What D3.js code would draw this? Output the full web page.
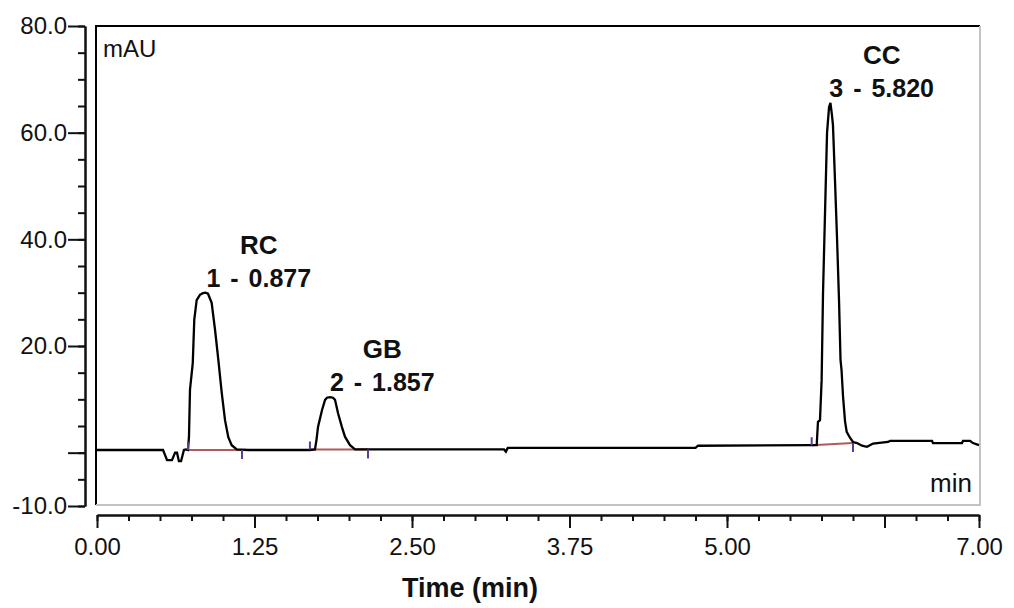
<!DOCTYPE html>
<html>
<head>
<meta charset="utf-8">
<script src="https://cdn.jsdelivr.net/npm/d3@7"></script>
<style>
  body { margin: 0; background: #fff; }
  text { font-family: "Liberation Sans", Arial, sans-serif; fill: #111; }
</style>
</head>
<body>
<div id="chart"></div>
<script>
var width = 1014, height = 608;

// chromatogram trace (time in min, signal in mAU)
var traceTime = [0, 0.524, 0.556, 0.595, 0.620, 0.635, 0.650, 0.667, 0.690, 0.706, 0.722,
  0.730, 0.738, 0.760, 0.772, 0.791, 0.817, 0.841, 0.861, 0.881, 0.910, 0.937, 0.963, 0.990,
  1.016, 1.042, 1.069, 1.109, 1.200, 1.690, 1.730, 1.742, 1.754, 1.786, 1.810, 1.825, 1.849,
  1.873, 1.889, 1.913, 1.944, 1.968, 2.008, 2.048, 2.151, 3.230, 3.245, 3.260, 4.750, 4.770,
  5.672, 5.712, 5.722, 5.738, 5.751, 5.762, 5.778, 5.794, 5.810, 5.821, 5.833, 5.841, 5.857,
  5.873, 5.889, 5.901, 5.909, 5.921, 5.937, 5.950, 5.976, 6.000, 6.032, 6.071, 6.111, 6.159,
  6.278, 6.294, 6.627, 6.635, 6.865, 6.873, 6.929, 6.952, 7.0];
var traceSignal = [0.5, 0.5, -1.4, -1.4, 0.0, 0.0, -1.6, -1.6, 0.5, 0.6, 0.5,
  3.0, 11.8, 16.8, 24.9, 28.6, 29.6, 29.9, 30.0, 29.8, 28.1, 23.0, 17.4, 11.2,
  6.1, 2.9, 1.4, 0.6, 0.5, 0.5, 0.6, 2.4, 4.8, 8.0, 9.9, 10.3, 10.4,
  10.3, 9.9, 7.4, 4.8, 3.0, 1.4, 0.6, 0.6, 0.6, 0.2, 0.9, 0.9, 1.3,
  1.4, 1.4, 5.8, 6.1, 13.6, 29.9, 45.0, 60.0, 64.8, 65.6, 63.3, 61.4, 51.1,
  40.4, 28.6, 17.4, 15.5, 10.5, 5.8, 3.9, 2.8, 2.0, 1.8, 1.3, 1.1, 1.7,
  2.0, 2.2, 2.2, 1.8, 1.8, 2.2, 2.2, 1.8, 1.4];

// peak table
var peakNames = ["RC", "GB", "CC"];
var peakNumbers = [1, 2, 3];
var peakTimes = [0.877, 1.857, 5.820];
var peakHeights = [30.0, 10.4, 65.6];
var peakStarts = [0.722, 1.690, 5.672];
var peakEnds = [1.151, 2.151, 6.000];
var peakStartLevels = [0.5, 0.6, 1.4];
var peakEndLevels = [0.5, 0.6, 1.8];

// axis ticks
var yMajorTicks = [80, 60, 40, 20, 0, -10];
var yMinorTicks = [-10, -5, 0, 5, 10, 15, 20, 25, 30, 35, 40, 45, 50, 55, 60, 65, 70, 75, 80];
var xMajorTicks = [0, 1.25, 2.5, 3.75, 5, 6.25, 7];
var xUnlabelled = [6.25];
var yUnlabelled = [0];
var xMinorTicks = d3.range(0, 7.001, 0.25);

var x = d3.scaleLinear().domain([0, 7]).range([97, 979]);
var y = d3.scaleLinear().domain([-10, 80]).range([506, 26]);

// plain hyphen instead of d3's unicode minus
var fmtY = d => d3.format(".1f")(d).replace("\u2212", "-");

var svg = d3.select("#chart").append("svg")
    .attr("width", width)
    .attr("height", height);

// plot frame: black left/top, grey right/bottom
svg.append("line").attr("x1", 96).attr("x2", 96).attr("y1", 25).attr("y2", 505)
    .attr("stroke", "#000").attr("stroke-width", 2);
svg.append("line").attr("x1", 95).attr("x2", 980).attr("y1", 26).attr("y2", 26)
    .attr("stroke", "#000").attr("stroke-width", 2);
svg.append("line").attr("x1", 980).attr("x2", 980).attr("y1", 26).attr("y2", 506)
    .attr("stroke", "#c4c4c4").attr("stroke-width", 2);
svg.append("line").attr("x1", 96).attr("x2", 981).attr("y1", 505).attr("y2", 505)
    .attr("stroke", "#c4c4c4").attr("stroke-width", 2);

// y axis
svg.append("g").attr("transform", "translate(85,0)")
    .call(d3.axisLeft(y).tickValues(yMinorTicks).tickSize(7).tickSizeOuter(0).tickFormat(""));
svg.append("g").attr("transform", "translate(85,0)")
    .call(d3.axisLeft(y).tickValues(yMajorTicks).tickSize(17).tickSizeOuter(0).tickPadding(1)
      .tickFormat(d => yUnlabelled.includes(d) ? "" : fmtY(d)));

// x axis
svg.append("g").attr("transform", "translate(0,515)")
    .call(d3.axisBottom(x).tickValues(xMinorTicks).tickSize(6).tickSizeOuter(0).tickFormat(""));
svg.append("g").attr("transform", "translate(0,515)")
    .call(d3.axisBottom(x).tickValues(xMajorTicks).tickSize(13).tickSizeOuter(0).tickPadding(10)
      .tickFormat(d => xUnlabelled.includes(d) ? "" : d3.format(".2f")(d)));

svg.selectAll(".domain, .tick line").attr("stroke", "#111").attr("stroke-width", 2);
svg.selectAll(".tick text").style("font-size", "24px").attr("fill", "#111");

// integration baselines
var peaks = peakNames.map((n, i) => ({
  name: n, num: peakNumbers[i], rt: peakTimes[i], h: peakHeights[i],
  s: peakStarts[i], e: peakEnds[i], sl: peakStartLevels[i], el: peakEndLevels[i]
}));

svg.selectAll(".base").data(peaks).enter().append("line")
    .attr("x1", d => x(d.s)).attr("y1", d => y(d.sl))
    .attr("x2", d => x(d.e)).attr("y2", d => y(d.el))
    .attr("stroke", "#b05a5a").attr("stroke-width", 2);

// the trace
var line = d3.line()
    .x((d, i) => x(traceTime[i]))
    .y(d => y(d));
svg.append("path")
    .datum(traceSignal)
    .attr("d", line)
    .attr("fill", "none")
    .attr("stroke", "#000")
    .attr("stroke-width", 2.3);

// start / end markers
svg.selectAll(".startTick").data(peaks).enter().append("line")
    .attr("x1", d => x(d.s)).attr("x2", d => x(d.s))
    .attr("y1", d => y(d.sl)).attr("y2", d => y(d.sl) - 8)
    .attr("stroke", "#5a3c9a").attr("stroke-width", 2);
svg.selectAll(".endTick").data(peaks).enter().append("line")
    .attr("x1", d => x(d.e)).attr("x2", d => x(d.e))
    .attr("y1", d => y(d.el)).attr("y2", d => y(d.el) + 9)
    .attr("stroke", "#5a3c9a").attr("stroke-width", 2);

// peak labels
peaks.forEach(function (d) {
  var rtLabel = svg.append("text")
      .attr("x", x(d.rt) - 1)
      .attr("y", y(d.h) - 6)
      .style("font-size", "25px")
      .style("font-weight", "bold")
      .style("word-spacing", "3px")
      .text(d.num + " - " + d3.format(".3f")(d.rt));
  var w = rtLabel.node().getComputedTextLength();
  svg.append("text")
      .attr("x", x(d.rt) - 1 + w / 2)
      .attr("y", y(d.h) - 39)
      .attr("text-anchor", "middle")
      .style("font-size", "26px")
      .style("font-weight", "bold")
      .text(d.name);
});

// unit labels
svg.append("text").attr("x", 103).attr("y", 57)
    .style("font-size", "24px").text("mAU");
svg.append("text").attr("x", 972).attr("y", 492).attr("text-anchor", "end")
    .style("font-size", "26px").text("min");
svg.append("text").attr("x", 470).attr("y", 597).attr("text-anchor", "middle")
    .style("font-size", "27px").style("font-weight", "bold").text("Time (min)");
</script>
</body>
</html>
